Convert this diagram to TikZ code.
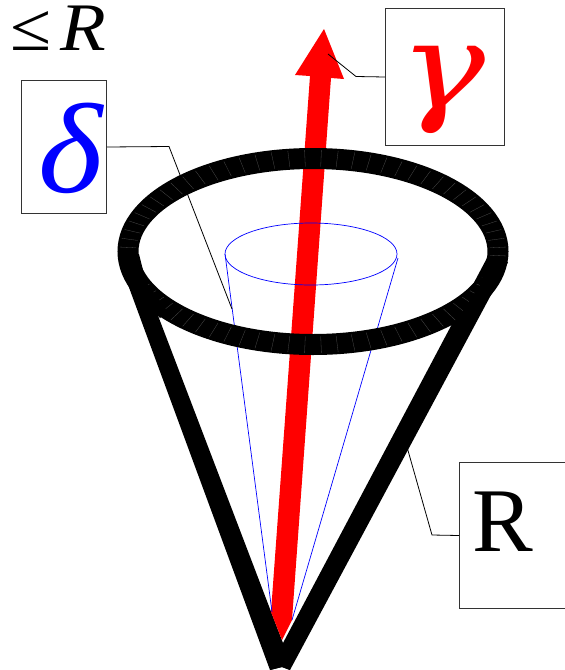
\documentclass[tikz,border=0pt]{standalone}
\usepackage{fontspec}
\setmainfont{Liberation Serif}
\newfontfamily\gammafont{DejaVu Serif}
\begin{document}
\begin{tikzpicture}[x=1pt,y=-1pt,
  labelbox/.style={draw=black!80,line width=1pt,fill=white,inner sep=0pt,anchor=north west},
  leader/.style={draw=black,line width=0.8pt},
  conewall/.style={fill=black},
  thin blue/.style={draw=blue,line width=0.7pt}]
\useasboundingbox (0,0) rectangle (565,670);
% black cone walls (lower part)
\fill[conewall] (120,263) -- (136,258) -- (283,643) -- (290,670) -- (282,667) -- (270,670) -- cycle;
\fill[conewall] (487,258) -- (283,643) -- (270,670) -- (282,667) -- (290,670) -- (499,280) -- cycle;
% red arrow
\fill[red] (324,29) -- (344,79) -- (331,78) -- (292,620) -- (282,640) -- (271,612) -- (310,76) -- (295,75) -- cycle;
% blue inner cone
\draw[thin blue] (311,254) ellipse [x radius=86,y radius=31];
\coordinate (bl) at (225,254);
\coordinate (br) at (398,258);
\draw[thin blue] (bl) -- (272,612);
\draw[thin blue] (br) -- (292,620);
% rim
\draw[black,line width=21pt] (313,251.5) ellipse [x radius=185,y radius=93];
\foreach \t in {2.5,7.5,...,357.5}{
  \draw[black!70,line width=0.3pt]
    ({313+193*cos(\t)},{251.5+101.5*sin(\t)}) -- ({313+177*cos(\t)},{251.5+85*sin(\t)});
}
% rim and wall joints
\fill[black] (118,254) -- (139,254) -- (146,282) -- (168,312) -- (160,318) -- (128,285) -- cycle;
\fill[black] (508,262) -- (487,262) -- (480,285) -- (462,312) -- (470,318) -- (498,282) -- cycle;
% labels
\node[anchor=base west,font=\fontsize{68}{68}\selectfont,inner sep=0pt] (len) at (10,50) {\scalebox{1.1}[1]{≤\hspace{8pt}\textit{R}}};
\node[labelbox,minimum width=85pt,minimum height=133pt] (dbox) at (21,80) {};
\node[labelbox,minimum width=119pt,minimum height=137pt] (gbox) at (385,8) {};
\node[labelbox,minimum width=106pt,minimum height=146pt] (rbox) at (459,462) {};
\node[font=\fontsize{128}{128}\selectfont\itshape,text=blue,inner sep=0pt] (dtxt) at (71,148) {\scalebox{1.08}[1]{δ}};
\node[font=\fontsize{120}{120}\gammafont\itshape,text=red,inner sep=0pt] (gtxt) at (443,90) {\scalebox{1.2}[1]{γ}};
\node[font=\fontsize{91}{91}\selectfont,inner sep=0pt,anchor=base] (rtxt) at (503,551) {R};
% leaders
\coordinate (dend) at (232,309);
\coordinate (gend) at (328,54);
\coordinate (rend) at (407,447);
\draw[leader] (dbox.east) -- (169,146.5) -- (dend);
\draw[leader] (gbox.west) -- (356,76.5) -- (gend);
\draw[leader] (rbox.west) -- (432,535) -- (rend);
\end{tikzpicture}
\end{document}
